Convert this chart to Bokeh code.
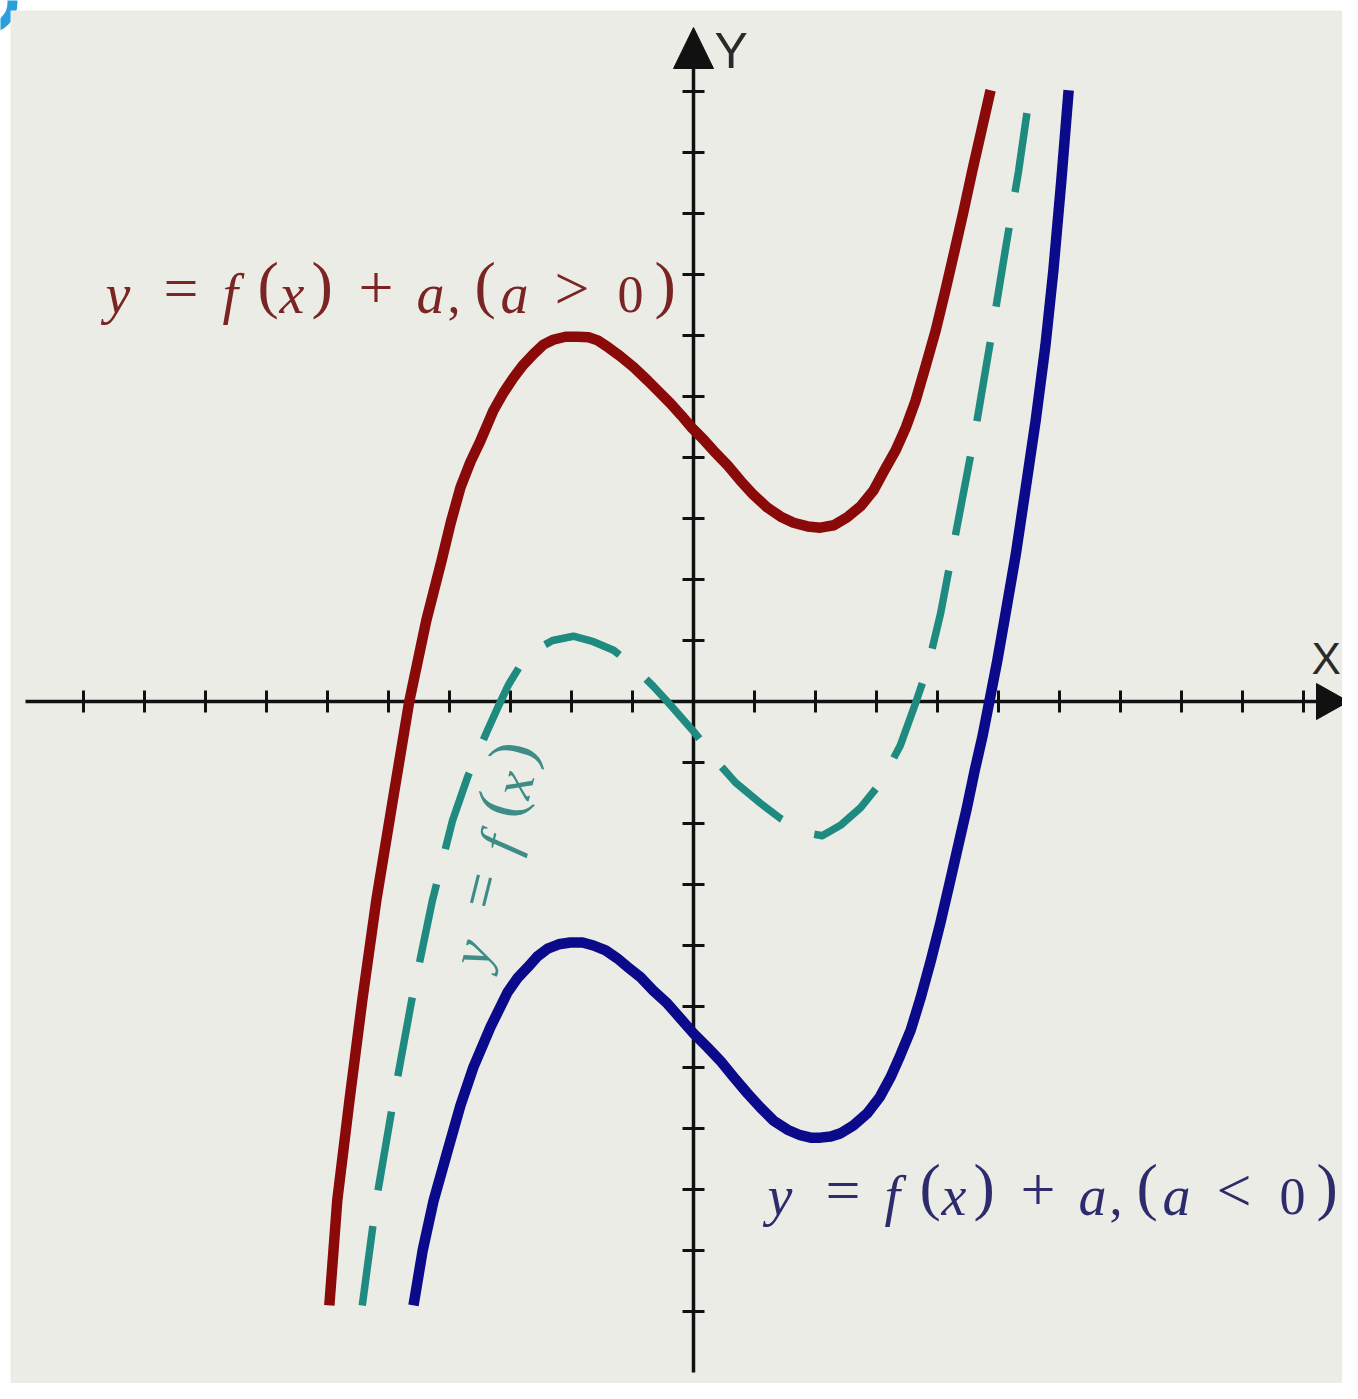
import math
from bokeh.plotting import figure
from bokeh.models import Range1d, ColumnDataSource
from bokeh.embed import file_html
from bokeh.resources import INLINE
from bokeh.core.properties import value

# ---------------- data (graph units) ----------------
x_ticks = [-10, -9, -8, -7, -6, -5, -4, -3, -2, -1, 1, 2, 3, 4, 5, 6, 7, 8, 9, 10]
y_ticks = [-10, -9, -8, -7, -6, -5, -4, -3, -2, -1, 1, 2, 3, 4, 5, 6, 7, 8, 9, 10]

# y = f(x) + a, a > 0  (red)
red_x = [-5.97, -5.84, -5.64, -5.43, -5.20, -4.93, -4.66, -4.38, -4.13, -3.98, -3.82,
         -3.66, -3.49, -3.28, -3.11, -2.95, -2.79, -2.62, -2.46, -2.30, -2.10, -1.90,
         -1.72, -1.57, -1.39, -1.20, -0.98, -0.75, -0.57, -0.38, -0.20, -0.02, 0.16,
         0.33, 0.56, 0.77, 0.98, 1.21, 1.43, 1.64, 1.87, 2.08, 2.30, 2.52, 2.74,
         2.95, 3.13, 3.31, 3.48, 3.64, 3.80, 3.97, 4.13, 4.28, 4.43, 4.57, 4.72, 4.87]
red_y = [-9.90, -8.18, -6.54, -4.90, -3.26, -1.62, 0.00, 1.33, 2.31, 2.93, 3.51,
         3.92, 4.28, 4.77, 5.07, 5.31, 5.52, 5.70, 5.85, 5.93, 5.98, 5.98,
         5.97, 5.92, 5.80, 5.66, 5.48, 5.26, 5.08, 4.89, 4.69, 4.48, 4.30,
         4.11, 3.87, 3.62, 3.39, 3.18, 3.03, 2.93, 2.87, 2.85, 2.89, 3.02, 3.20,
         3.46, 3.79, 4.11, 4.49, 4.93, 5.48, 6.08, 6.74, 7.39, 8.05, 8.70, 9.36, 10.02]

# y = f(x)  (teal, dashed)
teal_x = [-5.43, -5.20, -4.92, -4.62, -4.28, -3.95, -3.70, -3.54, -3.38, -3.20, -3.03,
          -2.84, -2.64, -2.31, -1.97, -1.64, -1.31, -1.08, -0.87, -0.66, -0.43, -0.21,
          0.00, 0.25, 0.46, 0.69, 1.10, 1.43, 1.84, 2.11, 2.41, 2.74, 3.07, 3.39,
          3.64, 3.84, 4.05, 4.34, 4.62, 4.87, 5.11, 5.33, 5.52]
teal_y = [-9.90, -8.18, -6.54, -4.90, -3.26, -1.95, -1.23, -0.85, -0.48, -0.08, 0.28,
          0.59, 0.82, 1.00, 1.07, 0.98, 0.84, 0.66, 0.46, 0.25, 0.00, -0.25,
          -0.49, -0.80, -1.07, -1.33, -1.67, -1.92, -2.15, -2.20, -2.03, -1.74, -1.33, -0.72,
          -0.03, 0.56, 1.44, 2.97, 4.44, 5.92, 7.39, 8.70, 10.02]

# y = f(x) + a, a < 0  (blue)
blue_x = [-4.59, -4.44, -4.26, -4.03, -3.82, -3.61, -3.33, -3.05, -2.89, -2.72, -2.56,
          -2.39, -2.21, -2.02, -1.82, -1.64, -1.44, -1.25, -1.07, -0.87, -0.66, -0.43,
          -0.21, 0.00, 0.23, 0.44, 0.66, 0.89, 1.10, 1.31, 1.54, 1.75, 1.92, 2.08,
          2.25, 2.41, 2.62, 2.85, 3.05, 3.23, 3.39, 3.56, 3.72, 3.89, 4.05, 4.21,
          4.34, 4.48, 4.61, 4.74, 4.85, 4.98, 5.11, 5.28, 5.44, 5.61, 5.77, 5.90,
          6.03, 6.15]
blue_y = [-9.90, -9.00, -8.18, -7.36, -6.62, -6.00, -5.34, -4.77, -4.54, -4.36, -4.18,
          -4.05, -3.98, -3.95, -3.95, -4.00, -4.08, -4.21, -4.36, -4.52, -4.74, -4.95,
          -5.20, -5.44, -5.67, -5.89, -6.16, -6.43, -6.66, -6.87, -7.02, -7.11, -7.15, -7.15,
          -7.13, -7.08, -6.95, -6.75, -6.49, -6.16, -5.80, -5.39, -4.87, -4.25, -3.62, -2.93,
          -2.36, -1.75, -1.13, -0.56, 0.00, 0.67, 1.41, 2.39, 3.46, 4.61, 5.84, 7.07,
          8.54, 10.02]

label_tokens = ["y", "=", "f", "(", "x", ")", "+", "a", ",", "(", "a", ">", "0", ")"]
label_tokens_neg = ["y", "=", "f", "(", "x", ")", "+", "a", ",", "(", "a", "<", "0", ")"]
teal_tokens = ["y", "=", "f", "(", "x", ")"]

# ---------------- layout helpers (reference pixel -> graph units) ----------------
X0, Y0, U = 693.0, 701.0, 61.0
def gx(X):
    return (X - X0) / U
def gy(Y):
    return (Y0 - Y) / U

W, H = 1342, 1383
p = figure(width=W, height=H, output_backend="svg", toolbar_location=None,
           x_range=Range1d(gx(0), gx(W)), y_range=Range1d(gy(H), gy(0)),
           x_axis_type=None, y_axis_type=None, min_border=0)
p.grid.visible = False
p.outline_line_color = None
p.background_fill_color = "white"
p.border_fill_color = "white"

# decoration in the top-left corner
p.scatter(x=[gx(-14)], y=[gy(2)], marker="circle", size=52, fill_color=None,
          line_color="#2A9FDF", line_width=10)

# grey panel
p.quad(left=gx(10), right=gx(1500), top=gy(10), bottom=gy(1500),
       fill_color="#ECECE6", line_color=None)

# axes
AX = "#111111"
p.line([gx(25), gx(1322)], [0, 0], line_width=3.5, line_color=AX)
p.line([0, 0], [gy(1372), gy(60)], line_width=3.5, line_color=AX)
th = 11 / U
p.segment(x0=x_ticks, y0=[-th] * len(x_ticks), x1=x_ticks, y1=[th] * len(x_ticks),
          line_width=3, line_color=AX)
p.segment(x0=[-th] * len(y_ticks), y0=y_ticks, x1=[th] * len(y_ticks), y1=y_ticks,
          line_width=3, line_color=AX)
p.patch([gx(1316), gx(1316), gx(1348)], [gy(683), gy(719), gy(701)],
        fill_color=AX, line_color=AX, line_width=1)
p.patch([gx(673), gx(713), gx(693)], [gy(68), gy(68), gy(27)],
        fill_color=AX, line_color=AX, line_width=1)

SANS_MID = 0.3465
p.text(x=[gx(714)], y=[gy(68 - SANS_MID * 50)], text=["Y"],
       text_font=value("Liberation Sans"), text_font_size="50px", text_color="#2a2a2a",
       text_baseline="middle", text_align="left")
p.text(x=[gx(1311)], y=[gy(673 - SANS_MID * 44)], text=["X"],
       text_font=value("Liberation Sans"), text_font_size="44px", text_color="#2a2a2a",
       text_baseline="middle", text_align="left")

# curves
p.line(teal_x, teal_y, line_width=7.5, line_color="#1F8A80", line_dash="80 36",
       line_join="round")
p.line(red_x, red_y, line_width=10.5, line_color="#8A0A0A", line_join="round")
p.line(blue_x, blue_y, line_width=10.5, line_color="#0A0A8A", line_join="round")

# ---------------- formula labels ----------------
offsets = [0, 58, 117, 152, 174, 206, 253, 311, 342, 369, 395, 449, 512, 549]
kinds = ["v", "o", "v", "p", "v", "p", "o", "v", "d", "p", "v", "o", "d", "p"]
KIND = {"v": ("italic", 56, 0), "d": ("normal", 52, 0),
        "o": ("normal", 62, 4), "p": ("normal", 64, 6)}
SERIF_MID = 0.3375

def place(tokens, X, B, ang_deg, color):
    t = math.radians(ang_deg)
    ux, uy = math.cos(t), -math.sin(t)
    vx, vy = -math.sin(t), -math.cos(t)
    for k, (style, size, shift) in KIND.items():
        xs, ys, ts = [], [], []
        for tok, d, kk in zip(tokens, offsets, kinds):
            if kk != k:
                continue
            up = shift + SERIF_MID * size
            sx = X + d * ux + up * vx
            sy = B + d * uy + up * vy
            xs.append(gx(sx)); ys.append(gy(sy)); ts.append(tok)
        if not ts:
            continue
        src = ColumnDataSource(dict(x=xs, y=ys, text=ts))
        p.text(x="x", y="y", text="text", source=src, angle=t,
               text_font=value("Liberation Serif"), text_font_style=style,
               text_font_size=f"{size}px", text_color=color, text_baseline="middle",
               text_align="left")

place(label_tokens, 105, 312, 0, "#7A2424")
place(label_tokens_neg, 767, 1214, 0, "#2C2C6C")
place(teal_tokens, 486, 969, 76, "#3F8C87")

open("out.html", "w").write(file_html(p, INLINE))
